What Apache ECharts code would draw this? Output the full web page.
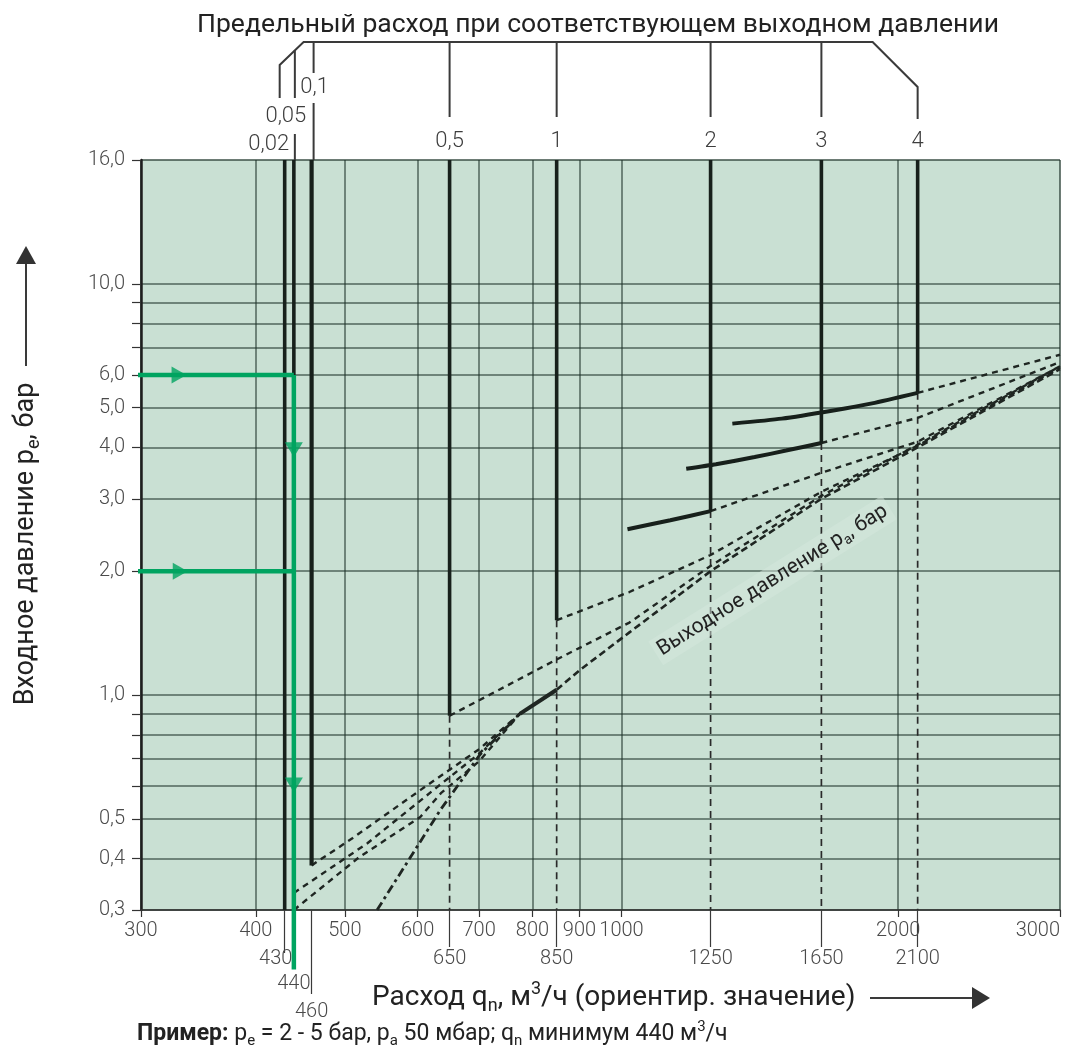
<!DOCTYPE html>
<html><head><meta charset="utf-8">
<script src="https://cdn.jsdelivr.net/npm/echarts@6/dist/echarts.min.js"></script>
<style>html,body{margin:0;padding:0;background:#fff}#c{width:1076px;height:1048px}</style>
</head><body><div id="c"></div>
<script>
// ---------- DATA ----------
const xMin = 300, xMax = 3000;
const xTickValues = [300, 400, 500, 600, 700, 800, 900, 1000, 2000, 3000];
const xMarkedFlows = [650, 850, 1250, 1650, 2100];
const xFlow002 = [430], xFlow005 = [440], xFlow01 = [460];

const yMin = 0.3;
const yTop = 20;            // position where the source draws its top line "16,0"
const yLabelValues = [0.3, 0.4, 0.5, 1, 2, 3, 4, 5, 6, 10, 20];
const yLabelTexts  = ['0,3', '0,4', '0,5', '1,0', '2,0', '3,0', '4,0', '5,0', '6,0', '10,0', '16,0'];
const yTickValues  = [0.3, 0.4, 0.5, 0.6, 0.7, 0.8, 0.9, 1, 2, 3, 4, 5, 6, 7, 8, 9, 10, 20];

const outletPressureLabels = ['0,02', '0,05', '0,1', '0,5', '1', '2', '3', '4'];
const limitFlows  = [430, 440, 460, 650, 850, 1250, 1650, 2100];
const limitEndPe  = [0.30, 0.33, 0.385, 0.89, 1.52, 2.80, 4.10, 5.43];

const curve2bar = [[1015, 2.53], [1130, 2.66], [1250, 2.80]];
const curve3bar = [[1176, 3.55], [1267, 3.64], [1396, 3.79], [1510, 3.93], [1650, 4.10]];
const curve4bar = [[1320, 4.57], [1494, 4.70], [1700, 4.92], [1873, 5.12], [2100, 5.43]];

const dash4  = [[2100, 5.43], [3000, 6.72]];
const dash3  = [[1650, 4.10], [2100, 4.72], [3000, 6.45]];
const dash2  = [[1250, 2.80], [1650, 3.47], [2100, 4.13], [3000, 6.30]];
const dash1  = [[850, 1.52], [1020, 1.78], [1250, 2.19], [1650, 3.12], [2100, 4.04], [3000, 6.25]];
const dash05 = [[650, 0.89], [850, 1.22], [1020, 1.50], [1250, 2.06], [1650, 3.05], [2100, 4.06], [3000, 6.30]];
const dash01 = [[460, 0.385], [510, 0.449], [604, 0.587], [701, 0.74], [775, 0.90]];
const dash005 = [[440, 0.33], [529, 0.436], [630, 0.597], [700, 0.72], [775, 0.90]];
const dash002 = [[440, 0.30], [518, 0.403], [604, 0.505], [636, 0.577], [700, 0.69], [775, 0.90]];

const outletLow  = [[542, 0.30], [635, 0.525], [701, 0.715], [775, 0.90]];
const outletMid  = [[775, 0.90], [850, 1.03]];
const outletHigh = [[850, 1.03], [901, 1.15], [1020, 1.42], [1250, 2.0], [1650, 3.0], [2100, 4.0], [3000, 6.2]];

const exampleFlow = 440;
const exampleInlet = [6.0, 2.0];
const exampleStartFlow = 293;
const exampleEndPe = 0.215;
const exampleArrowsRight = [[330, 6.0], [331, 2.0]];
const exampleArrowsDown = [[440, 3.95], [440, 0.604]];

const outletLabelAnchor = [1460, 1.9];

// ---------- STYLE ----------
const FONT = 'Roboto, "Liberation Sans", Arial, sans-serif';
const TXT = '#3d3d3d';
const LBL = '#4a4a4a';
const GRIDC = 'rgba(30,50,40,0.7)';
const BLACK = '#17201b';
const GREEN = '#00a460';
const LW = 300;

const chart = echarts.init(document.getElementById('c'));

const fmtInt = v => String(Math.round(v));
const fmtY = v => {
  for (let i = 0; i < yLabelValues.length; i++) {
    if (Math.abs(yLabelValues[i] - v) < 1e-6 * v) return yLabelTexts[i];
  }
  return '';
};

const baseX = {
  type: 'log', logBase: 10, min: xMin, max: xMax, position: 'bottom', gridIndex: 0,
  axisLine: { show: false }, splitLine: { show: false }, axisPointer: { show: false }
};
function markAxis(values, tickLen, margin, padding) {
  return Object.assign({}, baseX, {
    axisTick: { show: tickLen > 0, length: tickLen, customValues: values, lineStyle: { color: '#3a3a3a', width: 1.2 } },
    axisLabel: { customValues: values, margin: margin, formatter: fmtInt, fontSize: 20, fontWeight: LW, color: LBL, fontFamily: FONT, padding: padding || 0 }
  });
}

function ln(data, style, z, clip) {
  return { type: 'line', data: data, showSymbol: false, symbol: 'none', silent: true,
    clip: clip !== false, z: z || 3, lineStyle: style, animation: false, xAxisIndex: 0, yAxisIndex: 0 };
}

const series = [];
for (let i = 3; i < limitFlows.length; i++) {
  series.push(ln([[limitFlows[i], limitEndPe[i]], [limitFlows[i], yMin]],
    { color: '#2a2a2a', width: 1.7, type: [7, 5] }, 3));
}
limitFlows.forEach((f, i) => {
  series.push(ln([[f, yTop], [f, limitEndPe[i]]], { color: BLACK, width: i === 2 ? 4.2 : 3.6 }, 5));
});
[dash4, dash3, dash2, dash1, dash05, dash01, dash005, dash002].forEach(d => {
  series.push(ln(d, { color: '#1f2622', width: 2.4, type: [6, 5] }, 4));
});
series.push(ln(outletLow, { color: '#1f2622', width: 2.8, type: [9, 4, 3, 4] }, 4));
series.push(ln(outletMid, { color: '#1f2622', width: 4 }, 4));
series.push(ln(outletHigh, { color: '#1f2622', width: 2.6, type: [7, 4] }, 4));
[curve2bar, curve3bar, curve4bar].forEach(c => {
  series.push(Object.assign(ln(c, { color: BLACK, width: 4 }, 5), { smooth: 0.2 }));
});
exampleInlet.forEach(p => {
  series.push(ln([[exampleStartFlow, p], [exampleFlow, p]], { color: GREEN, width: 4.5 }, 10, false));
});
series.push(ln([[exampleFlow, exampleInlet[0]], [exampleFlow, exampleEndPe]], { color: GREEN, width: 4.5 }, 10, false));
series.push({
  type: 'scatter', silent: true, z: 11, animation: false, clip: false,
  symbol: 'triangle', symbolSize: [17, 15], itemStyle: { color: GREEN },
  data: exampleArrowsRight.map(v => ({ value: v, symbolRotate: -90 }))
    .concat(exampleArrowsDown.map(v => ({ value: v, symbolRotate: 180, symbolSize: [18, 15] })))
});

const option = {
  animation: false,
  backgroundColor: '#ffffff',
  textStyle: { fontFamily: FONT },
  grid: { left: 141, right: 16, top: 160, bottom: 138, show: true, backgroundColor: '#c9e0d3',
    borderColor: '#8f9e96', borderWidth: 1, outerBoundsMode: 'none', containLabel: false },
  xAxis: [
    Object.assign({}, baseX, {
      axisLine: { show: true, lineStyle: { color: '#333', width: 1.5 } },
      axisTick: { show: true, inside: false, length: 7, customValues: xTickValues, lineStyle: { color: '#333', width: 1.2 } },
      axisLabel: { customValues: xTickValues, margin: 11, formatter: fmtInt, fontSize: 20, fontWeight: LW, color: LBL, fontFamily: FONT, alignMaxLabel: 'right' },
      splitLine: { show: true, lineStyle: { color: GRIDC, width: 1.5 } }
    }),
    markAxis(xMarkedFlows, 37, 39),
    markAxis(xFlow002, 43, 39, [0, 18, 0, 0]),
    markAxis(xFlow005, 0, 64),
    markAxis(xFlow01, 84, 92)
  ],
  yAxis: {
    type: 'log', logBase: 10, min: yMin, max: yTop,
    axisLine: { show: true, lineStyle: { color: '#1e1e1e', width: 2.5 } },
    axisTick: { show: true, inside: false, length: 9, customValues: yTickValues, lineStyle: { color: '#333', width: 1.2 } },
    axisLabel: { customValues: yLabelValues, formatter: fmtY, margin: 16, fontSize: 20, fontWeight: LW, color: LBL, fontFamily: FONT },
    splitLine: { show: true, lineStyle: { color: GRIDC, width: 1.5 } },
    axisPointer: { show: false }
  },
  series: series
};
chart.setOption(option);

// ---------- annotations ----------
const PX = v => chart.convertToPixel({ xAxisIndex: 0 }, v);
const PP = d => chart.convertToPixel({ gridIndex: 0 }, d);
const xs = limitFlows.map(PX);
const gridTop = PP([xMin, yTop])[1];
const stroke = { stroke: '#3a3a3a', lineWidth: 2, fill: null };
const g = [];
function seg(x1, y1, x2, y2) { g.push({ type: 'line', shape: { x1, y1, x2, y2 }, style: stroke, silent: true }); }
function txt(x, y, text, size, opts) {
  g.push({ type: 'text', x, y, silent: true, style: Object.assign({ text, fontSize: size, fontFamily: FONT, fill: TXT,
    fontWeight: LW, align: 'center', verticalAlign: 'middle' }, opts || {}) });
}
const topY = 42;
const xL0 = xs[0] - 5, xL2 = xs[2] - 8;
g.push({ type: 'polyline', silent: true, shape: { points: [[xL0, 98], [xL0, 65], [xL2, topY], [xs[7] - 45, topY], [xs[7], 87], [xs[7], 119]] }, style: stroke });
const x005 = xs[1] + 1;
const yDiag = 65 - (x005 - xL0) / (xL2 - xL0) * (65 - topY);
seg(x005, yDiag, x005, 98); seg(x005, 134, x005, gridTop);
const x01 = xs[2] + 2;
seg(x01, topY, x01, 73); seg(x01, 103, x01, gridTop);
for (let i = 3; i < 7; i++) seg(xs[i], topY, xs[i], 117);
txt(x01 + 1, 87, outletPressureLabels[2], 22);
txt(xs[1] - 8, 116, outletPressureLabels[1], 22);
txt(xs[0] - 16, 144, outletPressureLabels[0], 22);
for (let i = 3; i < 8; i++) txt(xs[i], 141, outletPressureLabels[i], 22);
txt(598, 25, 'Предельный расход при соответствующем выходном давлении', 26.5, { fill: '#222', fontWeight: 'normal' });

const richBase = (size, sub) => ({
  a: { fontSize: size, fontFamily: FONT, fill: '#222', lineHeight: Math.round(size * 1.25) },
  b: { fontSize: size, fontFamily: FONT, fill: '#222', lineHeight: Math.round(size * 1.25), fontWeight: 'bold' },
  s: { fontSize: sub, fontFamily: FONT, fill: '#222', lineHeight: Math.round(sub * 0.95), verticalAlign: 'bottom' },
  u: { fontSize: sub, fontFamily: FONT, fill: '#222', lineHeight: Math.round(sub * 1.1), verticalAlign: 'top' }
});

g.push({ type: 'text', x: 26, y: 544, rotation: Math.PI / 2, silent: true, style: {
  text: '{a|Входное давление p}{s|e}{a|, бар}', align: 'center', verticalAlign: 'middle',
  rich: richBase(27, 18) } });
seg(26, 262, 26, 366);
g.push({ type: 'polygon', silent: true, shape: { points: [[26, 246], [16, 264], [36, 264]] }, style: { fill: '#333' } });

g.push({ type: 'text', x: 372, y: 998, silent: true, style: {
  text: '{a|Расход q}{s|n}{a|, м}{u|3}{a|/ч (ориентир. значение)}', align: 'left', verticalAlign: 'middle',
  rich: richBase(28, 18) } });
seg(870, 998, 975, 998);
g.push({ type: 'polygon', silent: true, shape: { points: [[990, 998], [972, 987], [972, 1009]] }, style: { fill: '#333' } });

g.push({ type: 'text', x: 137, y: 1034, silent: true, style: {
  text: '{b|Пример:}{a| p}{s|e}{a| = 2 - 5 бар, p}{s|a}{a| 50 мбар; q}{s|n}{a| минимум 440 м}{u|3}{a|/ч}',
  align: 'left', verticalAlign: 'middle',
  rich: richBase(23, 15) } });

const la = PP(outletLabelAnchor);
g.push({ type: 'text', x: la[0], y: la[1], rotation: 32 * Math.PI / 180, silent: true, z: 6, style: {
  text: '{a|Выходное давление p}{s|a}{a|, бар}', align: 'center', verticalAlign: 'middle',
  backgroundColor: 'rgba(214,232,222,0.5)', padding: [1, 4],
  rich: richBase(21, 14) } });

chart.setOption({ graphic: g });
</script></body></html>
